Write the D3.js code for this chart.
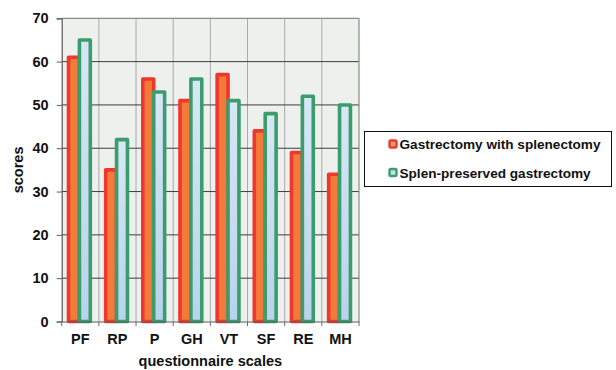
<!DOCTYPE html>
<html>
<head>
<meta charset="utf-8">
<script src="https://cdn.jsdelivr.net/npm/d3@7"></script>
<style>
  html, body { margin: 0; padding: 0; background: #fff; }
  svg { display: block; font-family: "Liberation Sans", Arial, sans-serif; }
</style>
</head>
<body>
<svg id="chart" width="616" height="370"></svg>
<script>
// SF-36 questionnaire scales
const categories = ["PF", "RP", "P", "GH", "VT", "SF", "RE", "MH"];
const seriesNames = ["Gastrectomy with splenectomy", "Splen-preserved gastrectomy"];
const withSplenectomy = [61, 35, 56, 51, 57, 44, 39, 34];
const splenPreserved = [65, 42, 53, 56, 51, 48, 52, 50];
const yTicks = [0, 10, 20, 30, 40, 50, 60, 70];

const seriesValues = [withSplenectomy, splenPreserved];
const seriesStyle = [
  { stroke: "#ee372d", fill: "#f27b3a", key: "#f6a064" },
  { stroke: "#3b9d6d", fill: "url(#gradBlue)", key: "#c6dcef" }
];

const svg = d3.select("#chart");
const plot = { left: 61.7, right: 359, top: 18.3, bottom: 321.5 };

const defs = svg.append("defs");
const gb = defs.append("linearGradient").attr("id", "gradBlue")
  .attr("x1", 0).attr("y1", 0).attr("x2", 0).attr("y2", 1);
gb.append("stop").attr("offset", "0%").attr("stop-color", "#d8e7f5");
gb.append("stop").attr("offset", "100%").attr("stop-color", "#b9d3ec");

const x = d3.scaleBand().domain(categories).range([plot.left, plot.right]).padding(0);
const xs = d3.scaleBand().domain(d3.range(seriesNames.length)).range([6.8, 28.6]).padding(0);
const y = d3.scaleLinear().domain([0, 70]).range([plot.bottom, plot.top]);

// plot background
svg.append("rect")
  .attr("x", plot.left).attr("y", plot.top)
  .attr("width", plot.right - plot.left).attr("height", plot.bottom - plot.top)
  .attr("fill", "#eef0ee");

// vertical grid at category boundaries
svg.append("g").selectAll("line")
  .data(categories.slice(1))
  .join("line")
  .attr("x1", d => x(d)).attr("x2", d => x(d))
  .attr("y1", plot.top).attr("y2", plot.bottom)
  .attr("stroke", "#a9abaa").attr("stroke-width", 1);

// horizontal grid
svg.append("g").selectAll("line")
  .data(yTicks.filter(t => t > 0 && t < 70))
  .join("line")
  .attr("x1", plot.left).attr("x2", plot.right)
  .attr("y1", d => y(d)).attr("y2", d => y(d))
  .attr("stroke", "#3c3c3c").attr("stroke-width", 1);

// top and right frame
svg.append("path")
  .attr("d", `M${plot.left},${y(70)}H${plot.right}V${plot.bottom}`)
  .attr("fill", "none").attr("stroke", "#8a8c8b").attr("stroke-width", 1.2);

// bars
seriesValues.forEach((vals, si) => {
  svg.append("g").selectAll("rect")
    .data(vals.map((v, i) => ({ c: categories[i], v })))
    .join("rect")
    .attr("x", d => x(d.c) + xs(si))
    .attr("width", xs.bandwidth())
    .attr("y", d => y(d.v))
    .attr("height", d => y(0) - y(d.v))
    .attr("fill", seriesStyle[si].fill)
    .attr("stroke", seriesStyle[si].stroke)
    .attr("stroke-width", 3.6)
    .attr("stroke-linejoin", "round");
});

// y axis
const yAxis = svg.append("g")
  .attr("transform", `translate(${plot.left},0)`)
  .call(d3.axisLeft(y).tickValues(yTicks).tickSize(5).tickPadding(8).tickFormat(d3.format("d")));
yAxis.select(".domain").attr("stroke", "#5a5a5a").attr("stroke-width", 1.2);
yAxis.selectAll(".tick line").attr("stroke", "#5a5a5a");
yAxis.selectAll(".tick text")
  .attr("font-size", "14.5px").attr("font-weight", "bold").attr("fill", "#111")
  .attr("font-family", "Liberation Sans, Arial, sans-serif");

// x axis
const xAxis = svg.append("g")
  .attr("transform", `translate(0,${plot.bottom})`)
  .call(d3.axisBottom(x).tickSize(0).tickPadding(12));
xAxis.select(".domain").attr("stroke", "#5a5a5a").attr("stroke-width", 1.2);
xAxis.selectAll(".tick text")
  .attr("font-size", "14.5px").attr("font-weight", "bold").attr("fill", "#111")
  .attr("font-family", "Liberation Sans, Arial, sans-serif");
// boundary ticks between categories
svg.append("g").selectAll("line")
  .data(categories.concat(["end"]))
  .join("line")
  .attr("x1", (d, i) => i < categories.length ? x(d) : plot.right)
  .attr("x2", (d, i) => i < categories.length ? x(d) : plot.right)
  .attr("y1", plot.bottom).attr("y2", plot.bottom + 4.5)
  .attr("stroke", "#6a6a6a").attr("stroke-width", 1);

// axis titles
svg.append("text")
  .attr("x", (plot.left + plot.right) / 2).attr("y", 366)
  .attr("text-anchor", "middle")
  .attr("font-size", "14.5px").attr("font-weight", "bold").attr("fill", "#111")
  .text("questionnaire scales");
svg.append("text")
  .attr("transform", `translate(23,${(plot.top + plot.bottom) / 2}) rotate(-90)`)
  .attr("text-anchor", "middle")
  .attr("font-size", "14.5px").attr("font-weight", "bold").attr("fill", "#111")
  .text("scores");

// legend
const legend = svg.append("g");
legend.append("rect")
  .attr("x", 364.5).attr("y", 131.5).attr("width", 247).attr("height", 55)
  .attr("fill", "#fff").attr("stroke", "#111").attr("stroke-width", 1);
const legendRows = [149, 177.5];
seriesNames.forEach((name, i) => {
  legend.append("rect")
    .attr("x", 389.5).attr("y", legendRows[i] - 8.5)
    .attr("width", 7).attr("height", 7).attr("rx", 1.5)
    .attr("fill", seriesStyle[i].key)
    .attr("stroke", seriesStyle[i].stroke).attr("stroke-width", 2.4);
  legend.append("text")
    .attr("x", 399.5).attr("y", legendRows[i])
    .attr("font-size", "13.6px").attr("font-weight", "bold").attr("fill", "#111")
    .text(name);
});
</script>
</body>
</html>
